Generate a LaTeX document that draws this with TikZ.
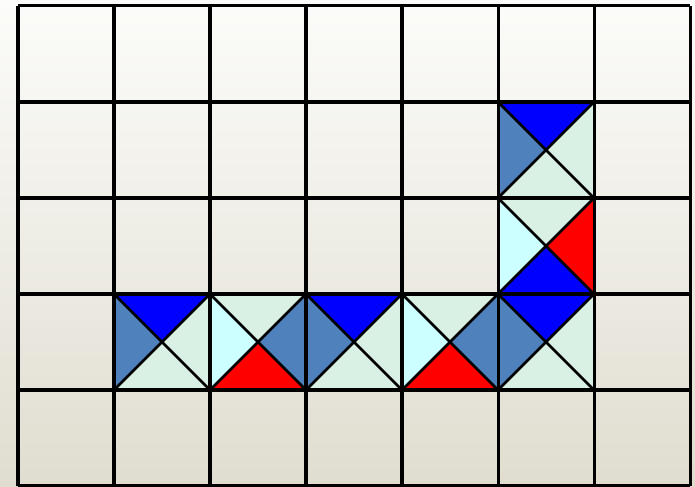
\documentclass[tikz,border=0pt]{standalone}
\usepackage{xcolor}
\usepackage{tikz}
\definecolor{tblue}{RGB}{0,0,255}
\definecolor{tsteel}{RGB}{79,129,189}
\definecolor{tmint}{RGB}{216,241,228}
\definecolor{tcyan}{RGB}{204,255,255}
\definecolor{tred}{RGB}{255,0,0}
\definecolor{bgtop}{RGB}{252,252,250}
\definecolor{bgbot}{RGB}{224,221,208}
\tikzset{
  gridline/.style={draw=black, line width=0.9pt},
  diagline/.style={draw=black, line width=0.8pt},
  backdrop/.style={top color=bgtop, bottom color=bgbot}
}
% one tile: column, row, then top / right / bottom / left colour
\newcommand{\wangtile}[6]{%
  \fill[#3] (#1,#2+1) -- (#1+1,#2+1) -- (#1+.5,#2+.5) -- cycle;
  \fill[#4] (#1+1,#2+1) -- (#1+1,#2) -- (#1+.5,#2+.5) -- cycle;
  \fill[#5] (#1,#2) -- (#1+1,#2) -- (#1+.5,#2+.5) -- cycle;
  \fill[#6] (#1,#2) -- (#1,#2+1) -- (#1+.5,#2+.5) -- cycle;
  \draw[diagline] (#1,#2) -- (#1+1,#2+1) (#1,#2+1) -- (#1+1,#2);
}

\begin{document}
\begin{tikzpicture}
  \shade[backdrop] (-0.1875,0) rectangle (7.052,5.0625);
  \useasboundingbox (-0.1875,0) rectangle (7.052,5.0625);
  % the tiles of the path
  \foreach \x/\y/\t/\r/\b/\l in {
      5/3/tblue/tmint/tmint/tsteel,
      5/2/tmint/tred/tblue/tcyan,
      1/1/tblue/tmint/tmint/tsteel,
      2/1/tmint/tsteel/tred/tcyan,
      3/1/tblue/tmint/tmint/tsteel,
      4/1/tmint/tsteel/tred/tcyan,
      5/1/tblue/tmint/tmint/tsteel}
    \wangtile{\x}{\y}{\t}{\r}{\b}{\l}
  % grid
  \foreach \i in {0,...,7}
    \draw[gridline] (\i,0) -- (\i,5);
  \foreach \j in {0,...,5}
    \draw[gridline] (0,\j) -- (7,\j);
\end{tikzpicture}
\end{document}
